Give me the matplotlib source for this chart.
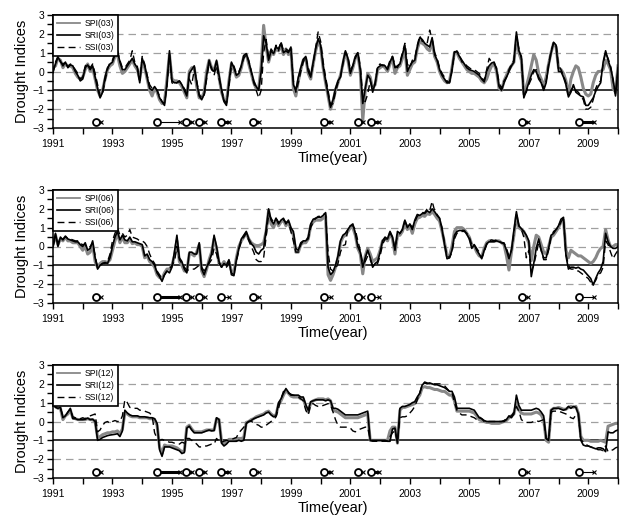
import numpy as np
import matplotlib
matplotlib.use("Agg")
import matplotlib.pyplot as plt
from matplotlib.ticker import MultipleLocator, FixedLocator

plt.rcParams['font.family'] = ['Liberation Sans', 'DejaVu Sans']

# ---------------- data (monthly, Jan 1991 .. Jan 2010) ----------------
spi03 = [
 0.2, 0.3, 0.7, 0.6, 0.2, 0.4, 0.3, 0.3, 0.2, -0.1, -0.3, -0.4,
 -0.3, 0.1, 0.4, 0.0, 0.2, -0.4, -1.0, -1.3, -1.0, -0.4, 0.1, 0.3,
 0.4, 0.8, 0.9, 0.3, -0.1, 0.0, 0.2, 0.4, 0.6, 0.3, 0.1, -0.4,
 0.5, 0.2, -0.4, -1.0, -1.3, -0.9, -1.1, -1.5, -1.7, -1.6, -0.4, 0.9,
 -0.4, -0.5, -0.5, -0.6, -0.8, -1.1, -1.4, 0.0, 0.2, 0.2, -0.8, -1.4,
 -1.4, -1.1, 0.0, 0.6, 0.2, 0.1, 0.5, -0.3, -1.1, -1.5, -1.6, -0.5,
 0.4, 0.1, -0.3, -0.2, 0.2, 0.8, 0.9, 0.4, -0.1, -0.6, -0.9, -0.9,
 0.3, 2.45, 1.3, 0.5, 1.0, 0.9, 1.2, 1.1, 1.4, 0.9, 1.2, 0.9,
 1.2, -0.9, -1.3, -0.5, 0.1, 0.6, 0.7, -0.1, -0.4, 0.4, 1.1, 1.6,
 1.3, 0.2, -0.6, -1.3, -2.0, -1.6, -1.0, -0.6, -0.2, 0.4, 1.0, 0.6,
 -0.2, 0.2, 0.7, 0.9, 0.0, -2.6, -1.0, -0.1, -0.3, -0.9, -0.7, 0.1,
 0.2, 0.3, 0.2, 0.0, 0.4, 0.7, -0.1, 0.2, 0.3, 0.7, 1.2, -0.2,
 0.1, 0.4, 0.5, 1.2, 1.6, 1.5, 1.4, 1.2, 1.1, 1.6, 0.8, 0.5,
 0.0, -0.3, -0.5, -0.6, -0.5, 0.2, 1.0, 1.0, 0.7, 0.5, 0.3, 0.1,
 0.0, -0.1, -0.1, -0.2, -0.3, -0.5, -0.6, -0.4, 0.0, 0.3, 0.4, 0.0,
 -0.9, -1.0, -0.5, -0.2, 0.1, 0.3, 0.5, 1.8, 1.0, 0.6, -1.2, -0.8,
 -0.3, 0.3, 0.9, 0.6, -0.1, -0.4, -0.8, -0.3, 0.4, 1.0, 1.5, 1.3,
 0.2, 0.1, -0.1, -0.5, -1.2, -0.4, 0.0, 0.3, 0.2, -0.3, -0.9, -1.2,
 -1.3, -1.2, -0.6, -0.2, 0.0, 0.0, 0.1, 0.6, 0.4, 0.1, -0.9, -1.1, 0.3]
sri03 = [
 0.0, 0.4, 0.75, 0.55, 0.3, 0.5, 0.2, 0.35, 0.3, 0.0, -0.2, -0.5,
 -0.4, 0.2, 0.35, 0.1, 0.3, -0.3, -0.9, -1.4, -1.1, -0.3, 0.2, 0.4,
 0.5, 0.9, 1.1, 0.5, 0.1, 0.1, 0.3, 0.5, 0.7, 0.4, 0.2, -0.6,
 0.7, 0.3, -0.3, -0.9, -1.0, -0.8, -1.0, -1.4, -1.6, -1.8, -0.6, 1.1,
 -0.5, -0.6, -0.6, -0.5, -0.7, -1.0, -1.3, -0.1, 0.1, 0.3, -0.6, -1.3,
 -1.5, -1.2, -0.2, 0.6, 0.1, 0.0, 0.6, -0.2, -1.0, -1.6, -1.8, -0.6,
 0.5, 0.2, -0.2, -0.1, 0.3, 0.85, 0.95, 0.5, 0.0, -0.5, -0.8, -1.0,
 0.0, 1.9, 1.5, 0.6, 1.1, 0.95, 1.3, 1.2, 1.5, 1.0, 1.1, 1.0,
 1.3, -0.7, -1.0, -0.3, 0.2, 0.65, 0.8, 0.0, -0.3, 0.5, 1.2, 1.75,
 1.4, 0.3, -0.5, -1.2, -1.9, -1.5, -0.9, -0.5, -0.3, 0.5, 1.1, 0.7,
 -0.1, 0.3, 0.8, 1.0, 0.1, -1.7, -0.9, -0.2, -0.4, -1.1, -0.6, 0.2,
 0.3, 0.35, 0.3, 0.1, 0.5, 0.8, 0.2, 0.3, 0.4, 0.9, 1.4, 0.0,
 0.3, 0.5, 0.6, 1.3, 1.8, 1.7, 1.5, 1.4, 1.3, 1.8, 0.9, 0.6,
 0.1, -0.2, -0.4, -0.6, -0.6, 0.1, 1.05, 1.05, 0.8, 0.6, 0.4, 0.2,
 0.1, 0.05, 0.0, -0.1, -0.2, -0.4, -0.55, 0.0, 0.3, 0.45, 0.5, 0.1,
 -0.8, -1.0, -0.6, -0.3, 0.0, 0.3, 0.5, 2.1, 1.1, 0.8, -1.4, -1.0,
 -0.6, -0.2, 0.1, 0.0, -0.4, -0.6, -1.0, -0.6, 0.3, 1.0, 1.55, 1.4,
 0.0, 0.0, -0.3, -0.7, -1.35, -1.1, -0.7, -1.1, -1.2, -1.3, -1.35, -1.8,
 -1.8, -1.6, -1.4, -1.05, -0.8, -0.6, 0.5, 1.1, 0.6, 0.2, -0.4, -1.3, 0.2]
ssi03 = [
 -0.1, 0.5, 0.8, 0.5, 0.4, 0.5, 0.25, 0.4, 0.3, 0.1, -0.1, -0.4,
 -0.3, 0.3, 0.4, 0.2, 0.4, -0.1, -0.7, -1.3, -1.2, -0.5, 0.1, 0.5,
 0.6, 1.0, 1.1, 0.6, 0.2, 0.2, 0.4, 0.6, 1.1, 0.5, 0.3, -0.5,
 0.8, 0.4, -0.2, -0.7, -0.9, -0.9, -1.0, -1.3, -1.6, -1.7, -0.8, 0.9,
 -0.6, -0.7, -0.6, -0.5, -0.7, -0.9, -1.2, -0.4, -0.7, 0.1, -0.5, -1.2,
 -1.4, -1.3, -0.4, 0.4, 0.2, -0.2, 0.3, -0.4, -0.9, -1.5, -1.7, -0.8,
 0.3, 0.3, -0.1, 0.0, 0.3, 0.7, 0.9, 0.6, 0.0, -0.6, -1.0, -1.4,
 -1.0, 1.0, 1.7, 0.8, 1.2, 1.0, 1.4, 1.1, 1.6, 1.1, 1.2, 1.1,
 1.2, -0.5, -1.1, -0.6, 0.0, 0.5, 0.8, 0.2, -0.2, 0.4, 1.3, 2.1,
 1.6, 0.5, -0.3, -1.0, -1.8, -1.7, -1.1, -0.6, -0.3, 0.4, 1.0, 0.8,
 0.1, 0.3, 0.7, 1.0, 0.3, -1.3, -1.6, -1.2, -0.5, -0.9, -0.7, 0.3,
 0.4, 0.3, 0.35, 0.2, 0.6, 0.8, 0.3, 0.2, 0.5, 1.0, 1.5, 0.4,
 0.2, 0.6, 0.7, 1.4, 1.9, 1.6, 1.6, 1.5, 2.2, 1.7, 1.0, 0.7,
 0.2, -0.1, -0.3, -0.5, -0.6, 0.0, 1.0, 1.1, 0.9, 0.5, 0.5, 0.3,
 0.2, 0.1, 0.1, 0.0, -0.1, -0.3, -0.5, 0.1, 0.7, 0.5, 0.4, 0.2,
 -0.6, -0.9, -0.5, -0.3, 0.1, 0.4, 0.6, 1.9, 1.2, 0.7, -1.3, -1.1,
 -0.7, -0.4, 0.0, 0.1, -0.3, -0.5, -0.9, -0.5, 0.4, 1.1, 1.5, 1.5,
 0.3, 0.1, -0.2, -0.6, -1.3, -1.0, -0.8, -1.0, -1.1, -1.3, -1.5, -2.0,
 -2.0, -1.9, -1.5, -0.9, -0.6, -0.5, 0.4, 1.0, 0.7, 0.3, -0.5, -1.2, 0.1]

spi06 = [
 0.1, 0.6, 0.1, 0.4, 0.3, 0.5, 0.3, 0.3, 0.2, 0.2, 0.2, 0.0,
 -0.2, 0.0, -0.4, -0.3, 0.1, -0.8, -1.1, -0.9, -0.8, -0.8, -0.85, -0.7,
 -0.2, 0.3, 0.7, 0.2, 0.5, 0.2, 0.2, 0.4, 0.15, 0.2, 0.1, 0.1,
 0.0, -0.6, -0.5, -0.8, -0.9, -1.1, -1.5, -1.65, -1.7, -1.4, -1.2, -1.2,
 -1.0, -0.5, 0.3, -0.8, -1.0, -1.3, -1.3, -0.4, -0.4, -0.5, -0.3, 0.1,
 -1.3, -1.6, -1.2, -0.7, -0.3, 0.4, -0.1, -0.9, -1.0, -0.8, -1.0, -0.8,
 -1.3, -1.4, -0.6, 0.0, 0.3, 0.5, 0.7, 0.4, 0.2, 0.1, 0.05, 0.05,
 0.1, 0.2, 0.8, 1.9, 1.2, 1.0, 1.4, 1.1, 1.3, 1.4, 1.1, 1.3,
 0.9, 0.6, -0.3, -0.3, 0.1, 0.2, 0.2, 0.4, 1.1, 1.3, 1.4, 1.4,
 1.4, 1.5, 1.6, -1.5, -1.8, -1.5, -1.1, -0.6, 0.2, 0.5, 0.6, 0.8,
 1.0, 1.0, 0.6, -0.1, -0.4, -1.45, -0.5, -0.1, -0.4, -0.8, -0.7, -0.6,
 -0.2, 0.3, 0.4, 0.3, 0.7, 0.4, -0.4, 0.6, 0.6, 0.8, 1.3, 0.9,
 1.1, 0.7, 1.2, 1.5, 1.55, 1.65, 1.6, 1.75, 1.7, 1.85, 1.7, 1.5,
 1.35, 0.8, 0.2, -0.5, -0.5, 0.0, 0.8, 1.0, 1.0, 1.0, 0.9, 0.7,
 0.5, 0.1, 0.0, -0.3, -0.5, -0.55, -0.1, 0.2, 0.3, 0.3, 0.3, 0.3,
 0.3, 0.2, 0.1, -0.5, -1.25, -0.3, 0.6, 1.6, 1.0, 0.9, 0.8, 0.5,
 0.2, -0.75, 0.0, 0.6, 0.5, 0.1, -0.3, -0.4, 0.0, 0.5, 0.6, 0.8,
 1.0, 1.3, 1.4, -0.2, -0.6, -0.2, -0.3, -0.4, -0.5, -0.5, -0.6, -0.7,
 -0.8, -0.9, -0.8, -0.6, -0.3, -0.1, 0.0, 0.9, 0.35, 0.0, 0.0, 0.1, 0.1]
sri06 = [
 0.0, 0.7, 0.0, 0.5, 0.35, 0.55, 0.4, 0.35, 0.3, 0.25, 0.25, 0.1,
 0.0, 0.2, -0.2, -0.1, 0.3, -0.6, -1.2, -1.0, -0.9, -0.85, -0.9, -0.6,
 0.0, 0.5, 0.8, 0.35, 0.6, 0.35, 0.3, 0.5, 0.25, 0.25, 0.2, 0.15,
 0.1, -0.5, -0.4, -0.7, -0.8, -1.0, -1.4, -1.6, -1.85, -1.5, -1.3, -1.4,
 -1.1, -0.3, 0.6, -0.6, -0.8, -1.2, -1.4, -0.3, -0.3, -0.4, -0.4, 0.2,
 -1.2, -1.5, -1.1, -0.8, -0.4, 0.6, 0.0, -0.8, -1.1, -0.9, -1.0, -0.7,
 -1.5, -1.55, -0.7, -0.1, 0.4, 0.6, 0.8, 0.4, 0.15, 0.0, -0.3, -0.4,
 -0.2, -0.1, 0.9, 2.0, 1.4, 1.2, 1.5, 1.2, 1.4, 1.5, 1.2, 1.4,
 1.0, 0.8, -0.1, -0.2, 0.2, 0.3, 0.3, 0.5, 1.2, 1.45, 1.5, 1.55,
 1.55, 1.65, 1.8, -1.1, -1.5, -1.35, -1.0, -0.5, 0.3, 0.6, 0.7, 0.9,
 1.1, 1.2, 0.7, 0.0, -0.3, -1.1, -0.6, -0.2, -0.6, -1.1, -0.9, -0.8,
 -0.3, 0.3, 0.5, 0.4, 0.8, 0.5, -0.2, 0.8, 0.7, 0.9, 1.4, 1.0,
 1.2, 0.9, 1.4, 1.7, 1.65, 1.75, 1.75, 1.9, 1.8, 2.0, 1.85, 1.65,
 1.5, 0.9, 0.1, -0.65, -0.6, -0.2, 0.6, 0.8, 0.85, 0.85, 0.85, 0.65,
 0.4, -0.1, 0.1, -0.2, -0.4, -0.65, -0.2, 0.15, 0.25, 0.25, 0.25, 0.3,
 0.25, 0.2, 0.15, -0.2, -0.65, -0.2, 0.85, 1.85, 1.1, 0.95, 0.8, 0.6,
 0.3, -1.6, -0.9, -0.1, 0.4, -0.2, -0.6, -0.6, -0.1, 0.6, 0.7, 0.9,
 1.1, 1.45, 1.55, -0.5, -1.2, -1.1, -1.1, -1.15, -1.1, -1.2, -1.25, -1.4,
 -1.55, -1.7, -2.05, -1.7, -1.4, -1.2, -0.8, 0.7, 0.25, 0.0, -0.1, -0.1, 0.0]
ssi06 = [
 0.0, 0.5, 0.2, 0.45, 0.4, 0.5, 0.45, 0.4, 0.35, 0.3, 0.3, 0.15,
 0.1, 0.1, -0.1, 0.0, 0.2, -0.5, -1.1, -1.0, -0.9, -0.9, -0.8, -0.4,
 0.3, 0.7, 1.0, 0.6, 0.7, 0.5, 0.6, 0.9, 0.5, 0.45, 0.4, 0.3,
 0.3, 0.2, 0.0, -0.4, -0.7, -0.9, -1.3, -1.5, -1.7, -1.5, -1.3, -1.2,
 -1.0, -0.8, 0.0, -0.7, -0.9, -1.1, -1.25, -1.25, -1.2, -1.2, -1.1, -1.0,
 -1.1, -1.3, -1.1, -0.9, -0.7, -0.1, -0.4, -0.9, -1.1, -1.0, -1.1, -0.9,
 -1.4, -1.5, -0.8, -0.2, 0.3, 0.5, 0.7, 0.3, 0.0, -0.3, -0.7, -0.8,
 -0.8, -0.6, 0.5, 1.7, 1.5, 1.3, 1.5, 1.3, 1.4, 1.4, 1.3, 1.3,
 0.8, 0.3, -0.3, -0.3, 0.1, 0.3, 0.3, 0.4, 1.0, 1.3, 1.5, 1.6,
 1.6, 1.7, 1.75, -0.3, -1.2, -1.3, -1.2, -0.9, -0.3, 0.05, 0.1, 0.95,
 1.1, 1.1, 0.9, 0.3, -0.2, -0.9, -0.8, -0.5, -0.7, -1.0, -1.0, -0.9,
 -0.5, 0.1, 0.4, 0.4, 0.7, 0.5, -0.1, 0.6, 0.7, 0.9, 1.3, 1.1,
 1.2, 1.0, 1.3, 1.6, 1.7, 1.8, 1.8, 2.0, 1.9, 2.4, 1.9, 1.7,
 1.5, 1.0, 0.2, -0.5, -0.6, -0.3, 0.4, 0.7, 0.8, 0.8, 0.8, 0.7,
 0.5, 0.1, 0.1, -0.1, -0.3, -0.6, -0.3, 0.1, 0.3, 0.35, 0.3, 0.35,
 0.3, 0.2, 0.2, -0.1, -0.5, -0.2, 0.7, 1.7, 1.1, 0.9, 0.5, -0.6,
 -0.2, -1.3, -1.0, -0.4, 0.2, -0.2, -0.7, -0.7, -0.2, 0.5, 0.8, 0.9,
 1.0, 1.3, 1.5, -0.4, -1.0, -1.2, -1.2, -1.3, -1.3, -1.4, -1.5, -1.6,
 -1.7, -1.9, -2.0, -1.8, -1.5, -1.4, -1.1, 0.3, 0.1, -0.3, -0.65, -0.4, -0.2]

spi12 = [
 1.0, 0.8, 0.7, 0.7, 0.1, 0.3, 0.4, 0.6, 0.2, 0.15, 0.1, 0.1,
 0.1, 0.1, 0.15, 0.1, 0.1, 0.0, -0.85, -0.8, -0.7, -0.65, -0.6, -0.6,
 -0.55, -0.55, -0.5, -0.65, -0.4, 0.45, 0.4, 0.3, 0.25, 0.25, 0.25, 0.2,
 0.2, 0.2, 0.2, 0.15, 0.15, 0.1, -0.2, -1.35, -1.7, -1.25, -1.3, -1.3,
 -1.3, -1.35, -1.4, -1.5, -1.6, -1.55, -0.3, -0.2, -0.4, -0.55, -0.55, -0.55,
 -0.55, -0.5, -0.45, -0.45, -0.45, -0.45, 0.15, 0.1, -1.05, -1.2, -1.1, -0.95,
 -0.95, -0.95, -0.9, -0.9, -0.9, -0.85, -0.05, 0.0, 0.1, 0.15, 0.25, 0.3,
 0.35, 0.4, 0.5, 0.55, 0.4, 0.3, 0.35, 0.9, 1.1, 1.4, 1.65, 1.5,
 1.35, 1.3, 1.3, 1.3, 1.2, 1.2, 0.8, 0.5, 1.0, 1.1, 1.15, 1.2,
 1.2, 1.2, 1.15, 1.2, 1.1, 0.6, 0.55, 0.5, 0.4, 0.3, 0.2, 0.2,
 0.2, 0.2, 0.2, 0.2, 0.25, 0.3, 0.35, 0.4, -1.0, -1.0, -1.0, -1.0,
 -1.0, -1.0, -1.0, -1.0, -0.5, -0.3, -0.3, -1.15, 0.6, 0.75, 0.75, 0.8,
 0.85, 0.9, 0.95, 1.2, 1.4, 1.8, 1.85, 1.8, 1.8, 1.75, 1.7, 1.7,
 1.65, 1.6, 1.6, 1.5, 1.4, 1.4, 1.1, 0.55, 0.55, 0.55, 0.55, 0.55,
 0.55, 0.5, 0.45, 0.3, 0.1, 0.05, 0.0, -0.05, -0.05, -0.1, -0.1, -0.1,
 -0.1, -0.05, 0.0, 0.05, 0.2, 0.3, 0.4, 1.0, 0.6, 0.45, 0.4, 0.4,
 0.4, 0.4, 0.45, 0.5, 0.45, 0.35, 0.1, -1.0, -1.1, 0.6, 0.7, 0.7,
 0.75, 0.7, 0.65, 0.65, 0.75, 0.8, 0.75, 0.8, 0.45, -0.8, -1.0, -1.0,
 -1.0, -1.05, -1.05, -1.05, -1.05, -1.0, -1.05, -1.1, -0.25, -0.2, -0.15, -0.1, -0.1]
sri12 = [
 1.0, 0.75, 0.7, 0.75, 0.2, 0.3, 0.5, 0.7, 0.15, 0.15, 0.1, 0.1,
 0.1, 0.12, 0.18, 0.1, 0.12, 0.0, -1.0, -0.95, -0.85, -0.8, -0.75, -0.72,
 -0.7, -0.68, -0.65, -0.8, -0.5, 0.6, 0.45, 0.35, 0.3, 0.3, 0.3, 0.25,
 0.25, 0.25, 0.22, 0.2, 0.2, 0.15, -0.1, -1.5, -1.85, -1.35, -1.35, -1.35,
 -1.4, -1.45, -1.5, -1.55, -1.7, -1.65, -0.35, -0.25, -0.45, -0.6, -0.6, -0.6,
 -0.6, -0.55, -0.5, -0.45, -0.5, -0.48, 0.2, 0.1, -1.15, -1.3, -1.2, -1.05,
 -1.05, -1.05, -1.05, -1.0, -1.05, -1.0, -0.1, 0.0, 0.05, 0.15, 0.2, 0.25,
 0.3, 0.35, 0.45, 0.5, 0.35, 0.25, 0.3, 1.0, 1.2, 1.5, 1.75, 1.55,
 1.4, 1.4, 1.4, 1.4, 1.3, 1.3, 0.9, 0.6, 1.05, 1.1, 1.15, 1.15,
 1.15, 1.15, 1.1, 1.15, 1.1, 0.7, 0.7, 0.65, 0.55, 0.45, 0.35, 0.35,
 0.35, 0.35, 0.35, 0.35, 0.4, 0.45, 0.5, 0.55, -1.0, -1.0, -1.0, -1.0,
 -1.0, -1.0, -1.0, -1.05, -1.05, -0.4, -0.35, -1.15, 0.7, 0.8, 0.8, 0.85,
 0.9, 1.0, 1.05, 1.3, 1.5, 1.95, 2.05, 2.0, 2.05, 2.0, 1.95, 1.95,
 1.9, 1.85, 1.8, 1.7, 1.6, 1.6, 1.3, 0.7, 0.7, 0.7, 0.7, 0.7,
 0.7, 0.65, 0.6, 0.4, 0.2, 0.15, 0.05, 0.0, 0.0, 0.0, 0.0, 0.0,
 0.0, 0.0, 0.0, 0.1, 0.3, 0.2, 0.4, 1.4, 0.85, 0.6, 0.6, 0.6,
 0.6, 0.6, 0.65, 0.7, 0.65, 0.5, 0.3, -0.9, -1.0, 0.6, 0.7, 0.7,
 0.7, 0.65, 0.6, 0.65, 0.8, 0.7, 0.8, 0.75, 0.4, -1.0, -1.25, -1.3,
 -1.3, -1.35, -1.4, -1.45, -1.4, -1.4, -1.45, -1.6, -0.55, -0.6, -0.6, -0.5, -0.45]
ssi12 = [
 1.0, 0.75, 0.75, 0.7, 0.3, 0.3, 0.5, 0.65, 0.25, 0.2, 0.2, 0.15,
 0.2, 0.15, 0.25, 0.3, 0.35, 0.4, -0.55, -0.45, -0.2, -0.05, 0.0, -0.1,
 0.0, 0.05, 0.0, 0.0, 0.3, 1.15, 1.0, 0.75, 0.7, 0.7, 0.7, 0.6,
 0.6, 0.55, 0.5, 0.45, 0.3, -0.6, -0.9, -1.0, -0.95, -1.0, -1.05, -1.1,
 -1.1, -1.15, -1.2, -1.2, -1.1, -1.15, -0.9, -0.9, -1.0, -1.1, -1.2, -1.35,
 -1.35, -1.3, -1.3, -1.25, -1.2, -1.2, -0.9, -1.05, -1.1, -1.05, -1.0, -1.0,
 -0.95, -0.9, -0.85, -0.6, -0.45, -0.3, -0.1, 0.0, 0.0, -0.05, -0.15, -0.2,
 -0.3, -0.3, -0.2, -0.1, 0.0, 0.1, 0.25, 0.7, 1.2, 1.6, 1.55, 1.5,
 1.45, 1.4, 1.35, 1.3, 1.2, 1.1, 0.6, 0.35, 0.9, 0.95, 0.85, 0.8,
 0.8, 0.85, 0.9, 0.95, 0.9, 0.5, 0.1, -0.2, -0.3, -0.3, -0.3, -0.3,
 -0.35, -0.5, -0.55, -0.45, -0.4, -0.35, -0.3, -0.3, -1.0, -1.05, -1.05, -1.05,
 -1.05, -1.05, -1.05, -1.05, -0.8, -0.6, -0.5, -1.1, 0.2, 0.25, 0.25, 0.3,
 0.45, 0.6, 0.8, 1.15, 1.5, 1.95, 2.1, 2.05, 2.0, 2.0, 2.0, 2.0,
 2.0, 1.95, 1.9, 1.75, 1.6, 1.55, 1.0, 0.6, 0.45, 0.35, 0.35, 0.35,
 0.3, 0.25, 0.2, 0.1, 0.25, 0.15, 0.0, -0.05, 0.0, 0.0, 0.0, 0.0,
 0.0, 0.0, 0.05, 0.15, 0.25, 0.3, 0.5, 0.8, 0.55, 0.1, 0.0, -0.05,
 -0.05, -0.05, 0.0, 0.05, 0.0, 0.05, 0.1, -0.9, -1.0, 0.5, 0.55, 0.55,
 0.55, 0.5, 0.45, 0.4, 0.3, 0.2, 0.15, 0.35, 0.4, -0.95, -1.1, -1.2,
 -1.3, -1.35, -1.4, -1.45, -1.5, -1.5, -1.55, -1.3, -1.6, -1.55, -1.5, -1.4, -1.35]

# drought events (onset o, termination x), in decimal years
event_start = [1992.44, 1994.49, 1995.48, 1995.90, 1996.65, 1997.74,
               2000.10, 2001.26, 2001.70, 2006.76, 2008.69]
event_end = [1992.60, 1995.28, 1995.67, 1996.12, 1996.93, 1997.92,
             2000.35, 2001.44, 2001.95, 2006.99, 2009.19]
# segment thickness per panel (thin / thick)
event_lw = [
    [2.2, 0.8, 2.2, 2.2, 2.2, 2.2, 2.2, 2.2, 2.2, 2.2, 2.2],
    [0.8, 2.2, 0.8, 0.8, 0.8, 0.8, 0.8, 0.8, 0.8, 0.8, 0.8],
    [2.2, 2.2, 2.2, 2.2, 2.2, 0.8, 2.2, 0.8, 2.2, 0.8, 0.8],
]

panels = [
    ("03", spi03, sri03, ssi03),
    ("06", spi06, sri06, ssi06),
    ("12", spi12, sri12, ssi12),
]

W, H = 631, 519
fig = plt.figure(figsize=(W / 100, H / 100), dpi=100)
tops = [15, 190, 365]
ax_h = 113
left, right = 53, 618

for k, (scale, spi, sri, ssi) in enumerate(panels):
    ax = fig.add_axes([left / W, 1 - (tops[k] + ax_h) / H,
                       (right - left) / W, ax_h / H])
    for yv in (-2, 0, 1, 2):
        ax.axhline(yv, color='#a0a0a0', lw=0.9, ls=(0, (6, 4)), zorder=1)
    ax.axhline(-1, color='black', lw=1.1, zorder=1)
    l1, = ax.plot(1991 + np.arange(len(spi)) / 12.0, spi, color='#888888',
                  lw=2.2, zorder=2, label=f'SPI({scale})')
    l2, = ax.plot(1991 + np.arange(len(sri)) / 12.0, sri, color='black',
                  lw=1.2, zorder=3, label=f'SRI({scale})')
    l3, = ax.plot(1991 + np.arange(len(ssi)) / 12.0, ssi, color='black',
                  lw=1.0, ls=(0, (5, 3)), zorder=3, label=f'SSI({scale})')

    for s, e, lw in zip(event_start, event_end, event_lw[k]):
        ax.plot([s, e], [-2.7, -2.7], color='black', lw=lw,
                solid_capstyle='butt', zorder=4)
        ax.plot([e], [-2.7], marker='x', color='black', ms=3.0,
                mew=0.8, zorder=4)
        ax.plot([s], [-2.7], marker='o', mfc='white', mec='black',
                ms=5.0, mew=1.3, zorder=5)

    ax.set_xlim(1991, 2010)
    ax.set_ylim(-3, 3)
    ax.xaxis.set_major_locator(FixedLocator(np.arange(1991, 2010, 2)))
    ax.xaxis.set_minor_locator(FixedLocator(np.arange(1992, 2011, 2)))
    ax.set_xticklabels([str(y) for y in range(1991, 2010, 2)])
    ax.yaxis.set_major_locator(MultipleLocator(1))
    ax.yaxis.set_minor_locator(MultipleLocator(0.5))
    ax.tick_params(axis='both', which='both', direction='out', length=4,
                   width=1.0, labelsize=7.5, pad=2)
    ax.tick_params(axis='x', which='major', pad=4)
    for sp in ax.spines.values():
        sp.set_linewidth(1.1)
    ax.set_xlabel('Time(year)', fontsize=10.5, labelpad=1)
    ax.xaxis.set_label_coords(0.495, -0.20)
    ax.set_ylabel('Drought Indices', fontsize=10.5, labelpad=3)

    leg = ax.legend(handles=[l1, l2, l3], loc='upper left', fontsize=6.2,
                    frameon=True, fancybox=False, borderaxespad=0.0,
                    handlelength=2.7, handletextpad=0.5, borderpad=0.45,
                    labelspacing=0.35)
    leg.get_frame().set_edgecolor('black')
    leg.get_frame().set_linewidth(1.2)
    leg.get_frame().set_alpha(1)
    leg.get_lines()[0].set_linewidth(1.3)

fig.savefig('out.png', dpi=100)
